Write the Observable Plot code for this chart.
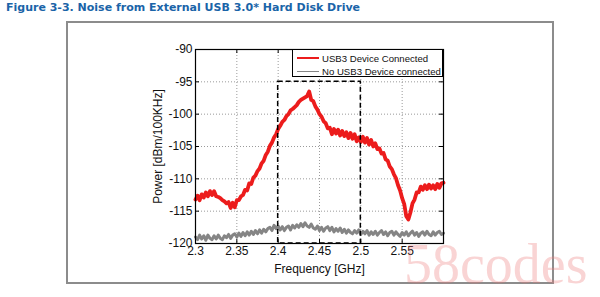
<!DOCTYPE html>
<html>
<head>
<meta charset="utf-8">
<script src="https://cdn.jsdelivr.net/npm/d3@7"></script>
<script src="https://cdn.jsdelivr.net/npm/@observablehq/plot@0.6"></script>
<style>
  html, body { margin: 0; padding: 0; background: #fff; }
  #wrap { position: relative; width: 600px; height: 297px; overflow: hidden; }
  #title { position: absolute; left: 6px; top: 1px; font-family: "DejaVu Sans", Verdana, sans-serif; font-weight: bold; font-size: 11px; color: #1a64a8; white-space: nowrap; }
  #frame { position: absolute; left: 66px; top: 21px; width: 488px; height: 263px; box-sizing: border-box; border: 2px solid #8c8c8c; }
  #chart { position: absolute; left: 0; top: 0; }
  #legend { position: absolute; left: 292px; top: 49px; width: 151px; height: 28px; box-sizing: border-box; border: 1px solid #000; background: #fff; font-family: "Liberation Sans", Arial, sans-serif; font-size: 9.6px; color: #111; }
  .row { position: absolute; left: 4px; height: 12px; display: flex; align-items: center; white-space: nowrap; }
  .sw { width: 22px; height: 0; margin-right: 3px; }
  #wm { position: absolute; left: 404px; top: 232px; font-family: "Liberation Serif", "DejaVu Serif", serif; font-size: 56px; color: rgba(235, 120, 120, 0.32); pointer-events: none; white-space: nowrap; }
</style>
</head>
<body>
<div id="wrap">
  <div id="frame"></div>
  <div id="chart"></div>
  <div id="title"></div>
  <div id="legend"></div>
  <div id="wm">58codes</div>
</div>
<script>
// ---- data ----
const titleText = "Figure 3-3. Noise from External USB 3.0* Hard Disk Drive";
const seriesNames = ["USB3 Device Connected", "No USB3 Device connected"];
const xTicks = [2.3, 2.35, 2.4, 2.45, 2.5, 2.55];
const yTicks = [-90, -95, -100, -105, -110, -115, -120];
const boxFreq = [2.4, 2.5];
const boxPower = [-120, -95];
const freqs = [
  2.3000, 2.3025, 2.3050, 2.3075, 2.3100, 2.3125, 2.3150, 2.3175, 2.3200, 2.3225,
  2.3250, 2.3275, 2.3300, 2.3325, 2.3350, 2.3375, 2.3400, 2.3425, 2.3450, 2.3475,
  2.3500, 2.3525, 2.3550, 2.3575, 2.3600, 2.3625, 2.3650, 2.3675, 2.3700, 2.3725,
  2.3750, 2.3775, 2.3800, 2.3825, 2.3850, 2.3875, 2.3900, 2.3925, 2.3950, 2.3975,
  2.4000, 2.4025, 2.4050, 2.4075, 2.4100, 2.4125, 2.4150, 2.4175, 2.4200, 2.4225,
  2.4250, 2.4275, 2.4300, 2.4325, 2.4350, 2.4375, 2.4400, 2.4425, 2.4450, 2.4475,
  2.4500, 2.4525, 2.4550, 2.4575, 2.4600, 2.4625, 2.4650, 2.4675, 2.4700, 2.4725,
  2.4750, 2.4775, 2.4800, 2.4825, 2.4850, 2.4875, 2.4900, 2.4925, 2.4950, 2.4975,
  2.5000, 2.5025, 2.5050, 2.5075, 2.5100, 2.5125, 2.5150, 2.5175, 2.5200, 2.5225,
  2.5250, 2.5275, 2.5300, 2.5325, 2.5350, 2.5375, 2.5400, 2.5425, 2.5450, 2.5475,
  2.5500, 2.5525, 2.5550, 2.5575, 2.5600, 2.5625, 2.5650, 2.5675, 2.5700, 2.5725,
  2.5750, 2.5775, 2.5800, 2.5825, 2.5850, 2.5875, 2.5900, 2.5925, 2.5950, 2.5975,
  2.6000
];
const usb3Power = [
  -113.2, -112.6, -113.3, -112.4, -112.9, -112.1, -112.7, -111.9, -112.5, -111.9,
  -112.7, -112.8, -113.0, -113.3, -113.5, -113.8, -113.6, -114.5, -113.7, -114.4,
  -113.3, -113.3, -112.7, -112.5, -111.7, -111.8, -110.7, -110.8, -109.8, -109.5,
  -108.8, -108.4, -107.6, -107.2, -106.3, -105.8, -104.9, -104.4, -103.6, -103.1,
  -102.3, -101.8, -101.2, -100.9, -100.3, -100.0, -99.4, -99.2, -98.9, -98.6,
  -98.1, -97.8, -97.6, -97.4, -97.2, -96.5, -97.8, -98.0, -98.8, -99.3,
  -100.0, -100.4, -101.1, -101.4, -102.2, -102.1, -103.1, -102.3, -103.0, -102.4,
  -103.3, -102.6, -103.4, -102.8, -103.7, -102.9, -103.8, -103.1, -104.2, -103.6,
  -104.3, -103.5, -104.4, -103.7, -104.7, -104.0, -105.0, -104.5, -105.4, -105.3,
  -106.1, -106.0, -107.0, -107.2, -108.1, -108.5, -109.3, -109.9, -111.0, -111.8,
  -113.0, -113.9, -115.8, -116.3, -115.2, -113.8, -113.2, -112.1, -112.1, -111.2,
  -111.7, -111.0, -111.6, -110.9, -111.5, -111.0, -111.6, -110.8, -111.4, -110.7,
  -110.6
];
const noUsb3Power = [
  -119.0, -119.4, -118.7, -119.3, -118.8, -119.5, -118.7, -119.2, -119.4, -118.8,
  -119.3, -118.7, -119.2, -119.4, -118.8, -119.1, -118.6, -119.2, -118.7, -118.5,
  -119.0, -118.4, -118.9, -118.3, -118.8, -118.2, -118.7, -118.1, -118.6, -118.0,
  -118.5, -117.9, -118.4, -117.8, -118.2, -117.7, -117.5, -118.0, -117.2, -117.7,
  -117.3, -117.9, -117.4, -118.0, -117.5, -117.3, -117.9, -117.2, -117.6, -117.1,
  -117.5, -116.9, -117.4, -116.8, -117.3, -117.5, -117.0, -117.6, -117.8, -117.3,
  -118.0, -117.5, -118.1, -117.6, -117.4, -118.0, -117.5, -118.2, -117.7, -118.1,
  -117.6, -118.3, -117.8, -118.4, -117.9, -118.3, -118.5, -118.0, -118.4, -117.9,
  -118.6, -118.1, -118.5, -118.0, -118.7, -118.2, -118.6, -118.1, -118.7, -118.3,
  -118.0, -118.6, -118.2, -118.8, -118.3, -118.1, -118.7, -118.2, -118.6, -118.9,
  -118.3, -118.7, -118.2, -118.8, -118.4, -118.1, -118.7, -118.3, -118.9, -118.4,
  -118.2, -118.7, -118.1, -118.6, -118.8, -118.2, -118.7, -118.3, -118.1, -118.6,
  -118.4
];
const seriesColors = ["#ec1c1c", "#858585"];

// ---- build ----
const usb3 = freqs.map((f, i) => ({f, p: usb3Power[i]}));
const noUsb3 = freqs.map((f, i) => ({f, p: noUsb3Power[i]}));
const box = [{x1: boxFreq[0], x2: boxFreq[1], y1: boxPower[0], y2: boxPower[1]}];

const chart = Plot.plot({
  width: 600,
  height: 297,
  marginLeft: 195,
  marginRight: 157,
  marginTop: 49,
  marginBottom: 54,
  x: {domain: [2.3, 2.6]},
  y: {domain: [-120, -90]},
  style: {fontFamily: "'Liberation Sans', Arial, sans-serif", fontSize: "12px", background: "transparent", color: "#111"},
  marks: [
    Plot.gridX(xTicks, {stroke: "#9a9a9a", strokeOpacity: 1, strokeDasharray: "1,2"}),
    Plot.gridY(yTicks, {stroke: "#9a9a9a", strokeOpacity: 1, strokeDasharray: "1,2"}),
    Plot.line(noUsb3, {x: "f", y: "p", stroke: seriesColors[1], strokeWidth: 3}),
    Plot.line(usb3, {x: "f", y: "p", stroke: seriesColors[0], strokeWidth: 3.8}),
    Plot.rect(box, {x1: "x1", x2: "x2", y1: "y1", y2: "y2", fill: "none", stroke: "#000", strokeWidth: 1.5, strokeDasharray: "5,3"}),
    Plot.frame({stroke: "#000", strokeWidth: 1.2}),
    Plot.tickX(xTicks, {x: d => d, insetTop: 190, stroke: "#000"}),
    Plot.tickX(xTicks, {x: d => d, insetBottom: 190, stroke: "#000"}),
    Plot.tickY(yTicks, {y: d => d, insetRight: 244, stroke: "#000"}),
    Plot.tickY(yTicks, {y: d => d, insetLeft: 244, stroke: "#000"}),
    Plot.axisX({ticks: xTicks, tickSize: 0, tickPadding: 3, tickFormat: d => String(d), label: "Frequency [GHz]", labelAnchor: "center", labelOffset: 29, labelArrow: "none"}),
    Plot.axisY({ticks: yTicks, tickSize: 0, tickPadding: 3, tickFormat: d => String(d), label: "Power [dBm/100KHz]", labelAnchor: "center", labelOffset: 42, labelArrow: "none"})
  ]
});
document.getElementById("chart").appendChild(chart);

document.getElementById("title").textContent = titleText;

const legend = document.getElementById("legend");
seriesNames.forEach((name, i) => {
  const row = document.createElement("div");
  row.className = "row";
  row.style.top = (i === 0 ? 2 : 15) + "px";
  const sw = document.createElement("span");
  sw.className = "sw";
  sw.style.borderTop = (i === 0 ? 2 : 1.5) + "px solid " + seriesColors[i];
  const t = document.createElement("span");
  t.textContent = name;
  row.appendChild(sw);
  row.appendChild(t);
  legend.appendChild(row);
});
</script>
</body>
</html>
